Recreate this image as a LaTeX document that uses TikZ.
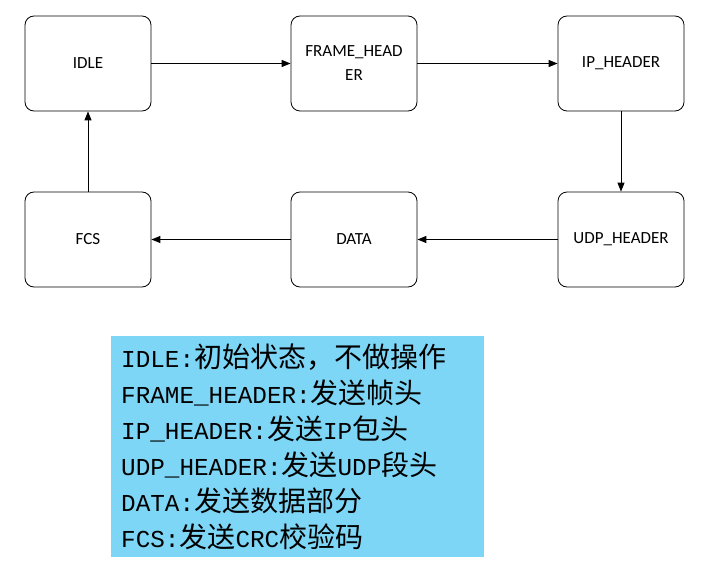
\documentclass[tikz,border=0pt]{standalone}
\usepackage{fontspec}
\setmainfont{Carlito}
\newfontfamily\lm{Liberation Mono}
\newfontfamily\cjk{Noto Sans CJK SC}
\usetikzlibrary{arrows.meta}
\newcommand{\cz}[1]{{\cjk\fontsize{28}{30}\selectfont #1}}
\begin{document}
\begin{tikzpicture}[x=1pt,y=-1pt,
  st/.style={draw,rounded corners=9pt,minimum width=126pt,minimum height=95pt,align=center,text width=118pt,font=\fontsize{17}{24}\selectfont,line width=0.8pt},
  ar/.style={-{Triangle[length=9pt,width=7pt]},line width=0.9pt}]
\useasboundingbox (0,0) rectangle (714,572);
\node[st] (idle) at (88,63.5) {IDLE};
\node[st] (fh) at (354,63.5) {FRAME\_HEAD\\ER};
\node[st] (ip) at (621,63.5) {IP\_HEADER};
\node[st] (udp) at (621,239.5) {UDP\_HEADER};
\node[st] (data) at (354,239.5) {DATA};
\node[st] (fcs) at (88,239.5) {FCS};
\draw[ar] (idle) -- (fh);
\draw[ar] (fh) -- (ip);
\draw[ar] (ip) -- (udp);
\draw[ar] (udp) -- (data);
\draw[ar] (data) -- (fcs);
\draw[ar] (fcs) -- (idle);
\node[fill={rgb,255:red,125;green,214;blue,246},minimum width=373pt,minimum height=221pt,anchor=north west,inner sep=0pt] (leg) at (111,336) {};
\node[anchor=north west,align=left,inner sep=0pt,font=\lm\fontsize{24.3}{36}\selectfont] (txt) at (121,344) {%
IDLE:\cz{初始状态，不做操作}\\
FRAME\_HEADER:\cz{发送帧头}\\
IP\_HEADER:\cz{发送}IP\cz{包头}\\
UDP\_HEADER:\cz{发送}UDP\cz{段头}\\
DATA:\cz{发送数据部分}\\
FCS:\cz{发送}CRC\cz{校验码}};
\end{tikzpicture}
\end{document}
